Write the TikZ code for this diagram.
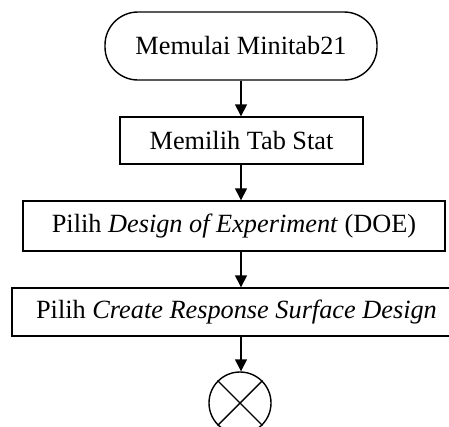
\documentclass[tikz,border=0pt]{standalone}
\usepackage{fontspec}
\setmainfont{Liberation Serif}
\usetikzlibrary{arrows.meta,shapes.misc}
\begin{document}
\begin{tikzpicture}[x=1pt,y=-1pt,
  every node/.style={font=\fontsize{26.3}{31}\selectfont},
  proc/.style={draw, line width=1.4pt, rectangle, inner sep=0pt},
  term/.style={draw, line width=1.4pt, rectangle, rounded corners=33pt, inner sep=0pt, minimum width=272pt, minimum height=68pt},
  conn/.style={line width=1.4pt, -{Triangle[width=12pt,length=12pt]}}]
\useasboundingbox (0,0) rectangle (449,426);
\clip (0,0) rectangle (449,426);
\node[term] (t) at (241,46) {Memulai Minitab21};
\node[proc, minimum width=243pt, minimum height=47pt] (b2) at (241.5,140.5) {Memilih Tab Stat};
\node[proc, minimum width=422pt, minimum height=50pt] (b3) at (234,226) {Pilih \textit{Design of Experiment} (DOE)};
\node[proc, minimum width=449pt, minimum height=48pt] (b4) at (236.5,312) {Pilih \textit{Create Response Surface Design}};
\node[draw, line width=1.4pt, circle, minimum size=62pt, inner sep=0pt] (c) at (240,403) {};
\draw[line width=1.4pt] (c.north west) -- (c.south east);
\draw[line width=1.4pt] (c.north east) -- (c.south west);
\draw[conn] (t.south -| 241,0) -- (b2.north -| 241,0);
\draw[conn] (b2.south -| 241,0) -- (b3.north -| 241,0);
\draw[conn] (b3.south -| 241,0) -- (b4.north -| 241,0);
\draw[conn] (b4.south -| 241,0) -- (c.north -| 241,0);
\end{tikzpicture}
\end{document}
